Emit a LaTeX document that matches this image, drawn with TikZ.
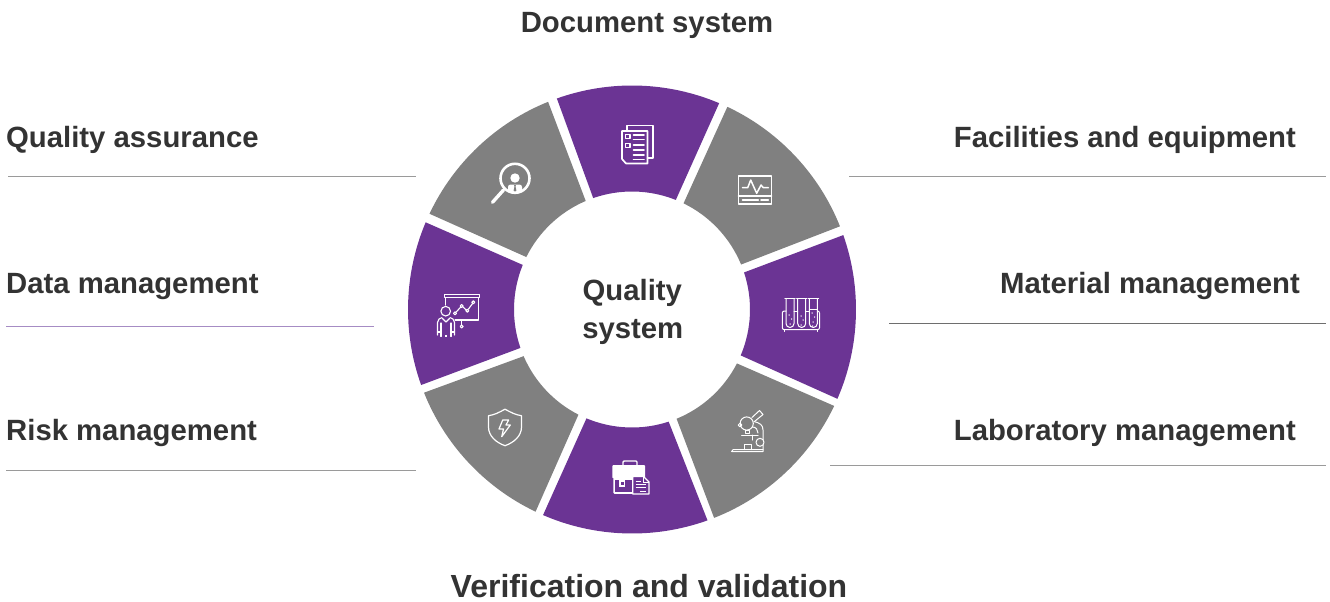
\documentclass[tikz,border=0pt]{standalone}
\usepackage{fontspec}
\setmainfont{Liberation Sans}
\definecolor{qpurple}{HTML}{6B3494}
\definecolor{qgray}{HTML}{808080}
\definecolor{qtext}{HTML}{333333}
\definecolor{qrule}{HTML}{9A9A9A}
\definecolor{qruled}{HTML}{6E6E6E}
\definecolor{qrulep}{HTML}{A68CC4}
\tikzset{
  lab/.style={inner sep=0pt,text=qtext,font=\fontsize{29.3}{32}\selectfont\bfseries},
  labbig/.style={lab,font=\fontsize{32}{36}\selectfont\bfseries},
  rulegray/.style={draw=qrule,line width=1pt},
  ic/.style={draw=white,line width=1.2pt,line join=round,line cap=round,fill=none},
  icb/.style={draw=white,line width=1.7pt,line join=round,line cap=round,fill=none},
}
\newcommand{\ringseg}[5]{%
  \fill[#1] (#2:224) arc[start angle=#2,end angle=#3,radius=224]
    -- (#4:118) arc[start angle=#4,end angle=#5,radius=118] -- cycle;}
\begin{document}
\begin{tikzpicture}[x=1pt,y=-1pt]
\useasboundingbox (0,0) rectangle (1330,602);
\begin{scope}[shift={(632,309.5)},y=1pt]
\ringseg{qpurple}{109.6}{67.1}{68.2}{109.2}
\ringseg{qgray}{64.8}{21.8}{22.4}{64.1}
\ringseg{qpurple}{19.4}{-23.5}{-22.9}{18.3}
\ringseg{qgray}{-25.5}{-68.5}{-67.8}{-27.2}
\ringseg{qpurple}{-70.3}{-113.4}{-112.7}{-71.9}
\ringseg{qgray}{-115.5}{-158.2}{-156.7}{-117}
\ringseg{qpurple}{-160.3}{-202.9}{-202.2}{-161}
\ringseg{qgray}{-205.3}{-248}{-246.9}{-206.4}
\end{scope}

% labels
\node[lab,anchor=base] (doc) at (647,32.5) {Document system};
\node[lab,anchor=base west] (qa) at (6,147) {Quality assurance};
\node[lab,anchor=base east] (fac) at (1296,147) {Facilities and equipment};
\node[lab,anchor=base west] (data) at (6,293) {Data management};
\node[lab,anchor=base east] (mat) at (1300,293) {Material management};
\node[lab,anchor=base west] (risk) at (6,440) {Risk management};
\node[lab,anchor=base east] (labm) at (1296,440) {Laboratory management};
\node[labbig,anchor=base] (ver) at (649,597) {Verification and validation};
\node[lab,anchor=base] (q1) at (632.3,300) {Quality};
\node[lab,anchor=base] (q2) at (632.8,338) {system};

% rules
\coordinate (r1a) at (8,176.7); \coordinate (r1b) at (416,176.7);
\coordinate (r2a) at (849,176.7); \coordinate (r2b) at (1326,176.7);
\coordinate (r3a) at (6,326); \coordinate (r3b) at (374,326);
\coordinate (r4a) at (889,323); \coordinate (r4b) at (1326,323);
\coordinate (r5a) at (6,470); \coordinate (r5b) at (416,470);
\coordinate (r6a) at (830,465); \coordinate (r6b) at (1326,465);
\draw[rulegray] (r1a) -- (r1b);
\draw[rulegray] (r2a) -- (r2b);
\draw[rulegray,draw=qrulep] (r3a) -- (r3b);
\draw[rulegray,draw=qruled] (r4a) -- (r4b);
\draw[rulegray] (r5a) -- (r5b);
\draw[rulegray] (r6a) -- (r6b);

% document icon
\draw[icb] (627,130) -- (627,125.5) -- (653,125.5) -- (653,158) -- (647.5,158);
\draw[icb] (622,131) -- (647.5,131) -- (647.5,163.5) -- (626,163.5) -- (622,159) -- cycle;
\draw[icb,line width=1.3pt] (625.3,134.3) rectangle (630,138.5);
\draw[icb,line width=1.3pt] (625.3,143.5) rectangle (630,147.5);
\foreach \yy in {135,139.5,145,150,155,159.5}{\draw[icb] (633.5,\yy) -- (644,\yy);}

% monitor icon
\draw[icb] (738.5,176) rectangle (771.5,204.3);
\draw[icb] (738.5,195.7) -- (771.5,195.7);
\draw[ic,line width=1.5pt] (742.5,187.7) -- (747.7,187.7) -- (750.7,180) -- (756.7,193.3) -- (761,185) -- (763.3,187.7) -- (768.3,187.7);
\draw[icb] (742.5,200) -- (758.3,200);
\draw[icb] (761,200) -- (768.3,200);

% test tubes icon
\begin{scope}[ic,line width=1pt]
\draw[rounded corners=2pt] (786,311) -- (782.3,311) -- (782.3,329.7) -- (819.5,329.7) -- (819.5,311) -- (817.3,311);
\draw (784.5,329.7) -- (784.5,331.5); \draw (817,329.7) -- (817,331.5);
\draw (794,311) -- (797.7,311); \draw (805.7,311) -- (809.3,311);
\foreach \tx in {786,797.7,809.3}{
  \draw (\tx,299) -- (\tx,323.5) arc[start angle=180,end angle=0,radius=4] -- (\tx+8,299);
  \draw (\tx-1.2,298.3) -- (\tx+9.2,298.3);
}
\draw (809.3,309) -- (817.3,309);
\end{scope}
\foreach \dx/\dy in {789/315,791.5/319,790/324,801/316,803/320,801/325,812/313,814.5/317,813/322,812.5/326}{\fill[white] (\dx,\dy) circle (0.75);}

% microscope icon
\begin{scope}[ic,line width=1pt]
\draw (731.7,451.5) -- (763,451.5) -- (763,430) .. controls (763,425) and (760,423) .. (754,421.5);
\draw (731.7,451.5) -- (733,449.7) -- (763,449.7);
\draw (752.5,427) .. controls (756,427) and (758,430) .. (758,433);
\draw (741.7,435) -- (758,435);
\draw (752,435) -- (752,440);
\draw (744,449.7) -- (744,444.5) -- (751.5,444.5) -- (751.5,449.7);
\draw[fill=qgray] (760,442.3) circle (4);
\draw (746.7,423.5) circle (6.6);
\draw (740,425) circle (1.8);
\draw (745,430.3) rectangle (749,433.5);
\draw (752,417.5) -- (759.5,410.5) -- (763,414.5) -- (754.5,421.5);
\end{scope}

% briefcase icon
\draw[icb,line width=1.4pt,rounded corners=1pt] (623,465) -- (623,461) -- (637,461) -- (637,465);
\fill[white,rounded corners=1pt] (612.3,465) rectangle (645,478.5);
\fill[white,rounded corners=1pt] (613.3,478) rectangle (645,493.8);
\fill[qpurple] (615,480) rectangle (634,492);
\fill[white] (619.3,479.5) rectangle (625.3,486.5);
\fill[qpurple] (621,481.5) rectangle (623.7,484.7);
\draw[white,line width=1.3pt,fill=qpurple,line join=round] (632.8,476.5) -- (643.5,476.5) -- (649,482) -- (649,494) -- (632.8,494) -- cycle;
\draw[white,line width=0.9pt] (643.3,476.5) -- (643.3,482) -- (649,482);
\foreach \yy/\xa/\xb in {481/635.5/640.5, 484.5/635.5/646, 487.5/635.5/646, 491/640/646}{\draw[white,line width=0.9pt] (\xa,\yy) -- (\xb,\yy);}

% presenter icon
\begin{scope}[ic,line width=1.1pt]
\draw (444.5,294.5) rectangle (479.3,297.8);
\draw (445.5,298) -- (445.5,305);
\draw (478.5,298) -- (478.5,320) -- (455,320);
\draw (461.7,320) -- (461.7,325);
\draw (461.7,326.5) circle (1.5);
\draw (456,312.2) -- (460.7,307.1);
\draw (463,307) -- (466,309.8);
\draw (468.3,309.3) -- (472.4,303.7);
\draw (455,313.3) circle (1.5);
\draw (461.7,306) circle (1.5);
\draw (467.3,310.7) circle (1.5);
\draw (473.3,302.3) circle (1.5);
\draw (445.7,311.2) circle (4.8);
\draw (437.5,335) -- (437.5,322.5) .. controls (437.5,319.5) and (440,318) .. (442,317.5);
\draw (454.5,335) -- (454.5,322.5) .. controls (454.5,319.5) and (452,318) .. (450,317.5);
\draw (441,323) -- (441,336.5);
\draw (451,323) -- (451,336.5);
\draw (442.5,318.5) -- (446,322) -- (449.5,318.5);
\draw (437.5,332) -- (441,332);
\draw (451,332) -- (454.5,332);
\end{scope}
\fill[white] (445.2,334.5) rectangle (446.8,336.5);

% shield icon
\begin{scope}[ic,line width=1.2pt]
\draw (505,409.2) .. controls (499,412.5) and (494,415) .. (488.5,415.7) -- (488.5,427) .. controls (488.5,436) and (496,442.5) .. (505,445.7) .. controls (514,442.5) and (521.5,436) .. (521.5,427) -- (521.5,415.7) .. controls (516,415) and (511,412.5) .. (505,409.2) -- cycle;
\draw (502.7,420) -- (508.6,420) -- (506,425) -- (510.3,425) -- (501.7,436.7) -- (503.5,429) -- (499,429) -- cycle;
\end{scope}

% magnifier icon
\fill[white] (515,178) circle (4.7);
\begin{scope}
\clip (515,178.3) circle (14.5);
\fill[white,rounded corners=2.5pt] (508,196) -- (508,184.5) -- (522,184.5) -- (522,196) -- cycle;
\end{scope}
\fill[qgray] (514.2,185.2) -- (515.8,185.2) -- (515.6,187) -- (516.4,190.5) -- (515,192.3) -- (513.6,190.5) -- (514.4,187) -- cycle;
\draw[white,line width=2.6pt] (515,178.3) circle (14.5);
\draw[white,line width=3.4pt,line cap=round] (503.5,190) -- (492.5,202.3);
\end{tikzpicture}
\end{document}
